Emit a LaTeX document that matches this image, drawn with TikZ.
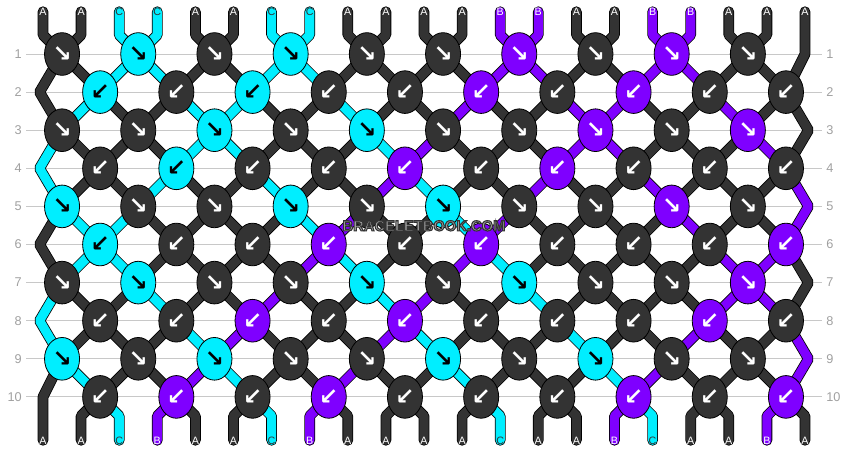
\documentclass[tikz,border=0pt]{standalone}
\usepackage{fontspec}
\setmainfont{Liberation Sans}
\newfontfamily\arrowfont{DejaVu Sans Bold}
\usetikzlibrary{shapes.geometric,backgrounds}

\definecolor{strA}{HTML}{333333}
\definecolor{strB}{HTML}{7F00FF}
\definecolor{strC}{HTML}{00EEFF}
\definecolor{rowgray}{HTML}{A0A0A0}
\definecolor{linegray}{HTML}{C8C8C8}
\definecolor{markgray}{HTML}{A8A8A8}

\begin{document}
\begin{tikzpicture}[
    knot/.style={
      ellipse,
      draw=black,
      line width=0.6pt,
      minimum width=0.92cm,
      minimum height=1.12cm,
      inner sep=0pt,
      font=\arrowfont\fontsize{17}{17}\selectfont
    },
    knotA/.style={knot, fill=strA, text=white},
    knotB/.style={knot, fill=strB, text=white},
    knotC/.style={knot, fill=strC, text=black},
    strand/.style={
      draw=black,
      line width=0.6pt,
      double distance=6.8pt,
      line cap=round,
      line join=bevel
    },
    strandA/.style={strand, double=strA},
    strandB/.style={strand, double=strB},
    strandC/.style={strand, double=strC},
    tag/.style={inner sep=0pt, text=white, font=\fontsize{8}{8}\selectfont},
    tagC/.style={tag, text=strA},
    rownumL/.style={anchor=east, inner sep=3pt, text=rowgray, font=\fontsize{9.5}{9.5}\selectfont},
    rownumR/.style={rownumL, anchor=west},
    rowline/.style={draw=linegray, line width=0.7pt}
  ]

    \useasboundingbox (-1.1286,0.4173) rectangle (21.1286,-11.4462);

    % Bends above the first row and below the last row
    \coordinate (upper) at (0,-0.5);
    \coordinate (lower) at (0,-10.5);

    % Edge turns
    \coordinate (er1) at (20,-1);
    \coordinate (el2) at (-0.09,-2);
    \coordinate (er3) at (20.09,-3);
    \coordinate (el4) at (-0.09,-4);
    \coordinate (er5) at (20.09,-5);
    \coordinate (el6) at (-0.09,-6);
    \coordinate (er7) at (20.09,-7);
    \coordinate (el8) at (-0.09,-8);
    \coordinate (er9) at (20.09,-9);
    \coordinate (el10) at (0,-10);

    % Row numbers
    \node[rownumL] (rl1) at (-0.446,-1) {1};
    \node[rownumL] (rl2) at (-0.446,-2) {2};
    \node[rownumL] (rl3) at (-0.446,-3) {3};
    \node[rownumL] (rl4) at (-0.446,-4) {4};
    \node[rownumL] (rl5) at (-0.446,-5) {5};
    \node[rownumL] (rl6) at (-0.446,-6) {6};
    \node[rownumL] (rl7) at (-0.446,-7) {7};
    \node[rownumL] (rl8) at (-0.446,-8) {8};
    \node[rownumL] (rl9) at (-0.446,-9) {9};
    \node[rownumL] (rl10) at (-0.446,-10) {10};
    \node[rownumR] (rr1) at (20.446,-1) {1};
    \node[rownumR] (rr2) at (20.446,-2) {2};
    \node[rownumR] (rr3) at (20.446,-3) {3};
    \node[rownumR] (rr4) at (20.446,-4) {4};
    \node[rownumR] (rr5) at (20.446,-5) {5};
    \node[rownumR] (rr6) at (20.446,-6) {6};
    \node[rownumR] (rr7) at (20.446,-7) {7};
    \node[rownumR] (rr8) at (20.446,-8) {8};
    \node[rownumR] (rr9) at (20.446,-9) {9};
    \node[rownumR] (rr10) at (20.446,-10) {10};

    % Row 1
    \node[knotA] (k1-1) at (0.5,-1) {↘};
    \node[knotC] (k1-2) at (2.5,-1) {↘};
    \node[knotA] (k1-3) at (4.5,-1) {↘};
    \node[knotC] (k1-4) at (6.5,-1) {↘};
    \node[knotA] (k1-5) at (8.5,-1) {↘};
    \node[knotA] (k1-6) at (10.5,-1) {↘};
    \node[knotB] (k1-7) at (12.5,-1) {↘};
    \node[knotA] (k1-8) at (14.5,-1) {↘};
    \node[knotB] (k1-9) at (16.5,-1) {↘};
    \node[knotA] (k1-10) at (18.5,-1) {↘};

    % Row 2
    \node[knotC] (k2-1) at (1.5,-2) {↙};
    \node[knotA] (k2-2) at (3.5,-2) {↙};
    \node[knotC] (k2-3) at (5.5,-2) {↙};
    \node[knotA] (k2-4) at (7.5,-2) {↙};
    \node[knotA] (k2-5) at (9.5,-2) {↙};
    \node[knotB] (k2-6) at (11.5,-2) {↙};
    \node[knotA] (k2-7) at (13.5,-2) {↙};
    \node[knotB] (k2-8) at (15.5,-2) {↙};
    \node[knotA] (k2-9) at (17.5,-2) {↙};
    \node[knotA] (k2-10) at (19.5,-2) {↙};

    % Row 3
    \node[knotA] (k3-1) at (0.5,-3) {↘};
    \node[knotA] (k3-2) at (2.5,-3) {↘};
    \node[knotC] (k3-3) at (4.5,-3) {↘};
    \node[knotA] (k3-4) at (6.5,-3) {↘};
    \node[knotC] (k3-5) at (8.5,-3) {↘};
    \node[knotA] (k3-6) at (10.5,-3) {↘};
    \node[knotA] (k3-7) at (12.5,-3) {↘};
    \node[knotB] (k3-8) at (14.5,-3) {↘};
    \node[knotA] (k3-9) at (16.5,-3) {↘};
    \node[knotB] (k3-10) at (18.5,-3) {↘};

    % Row 4
    \node[knotA] (k4-1) at (1.5,-4) {↙};
    \node[knotC] (k4-2) at (3.5,-4) {↙};
    \node[knotA] (k4-3) at (5.5,-4) {↙};
    \node[knotA] (k4-4) at (7.5,-4) {↙};
    \node[knotB] (k4-5) at (9.5,-4) {↙};
    \node[knotA] (k4-6) at (11.5,-4) {↙};
    \node[knotB] (k4-7) at (13.5,-4) {↙};
    \node[knotA] (k4-8) at (15.5,-4) {↙};
    \node[knotA] (k4-9) at (17.5,-4) {↙};
    \node[knotA] (k4-10) at (19.5,-4) {↙};

    % Row 5
    \node[knotC] (k5-1) at (0.5,-5) {↘};
    \node[knotA] (k5-2) at (2.5,-5) {↘};
    \node[knotA] (k5-3) at (4.5,-5) {↘};
    \node[knotC] (k5-4) at (6.5,-5) {↘};
    \node[knotA] (k5-5) at (8.5,-5) {↘};
    \node[knotC] (k5-6) at (10.5,-5) {↘};
    \node[knotA] (k5-7) at (12.5,-5) {↘};
    \node[knotA] (k5-8) at (14.5,-5) {↘};
    \node[knotB] (k5-9) at (16.5,-5) {↘};
    \node[knotA] (k5-10) at (18.5,-5) {↘};

    % Row 6
    \node[knotC] (k6-1) at (1.5,-6) {↙};
    \node[knotA] (k6-2) at (3.5,-6) {↙};
    \node[knotA] (k6-3) at (5.5,-6) {↙};
    \node[knotB] (k6-4) at (7.5,-6) {↙};
    \node[knotA] (k6-5) at (9.5,-6) {↙};
    \node[knotB] (k6-6) at (11.5,-6) {↙};
    \node[knotA] (k6-7) at (13.5,-6) {↙};
    \node[knotA] (k6-8) at (15.5,-6) {↙};
    \node[knotA] (k6-9) at (17.5,-6) {↙};
    \node[knotB] (k6-10) at (19.5,-6) {↙};

    % Row 7
    \node[knotA] (k7-1) at (0.5,-7) {↘};
    \node[knotC] (k7-2) at (2.5,-7) {↘};
    \node[knotA] (k7-3) at (4.5,-7) {↘};
    \node[knotA] (k7-4) at (6.5,-7) {↘};
    \node[knotC] (k7-5) at (8.5,-7) {↘};
    \node[knotA] (k7-6) at (10.5,-7) {↘};
    \node[knotC] (k7-7) at (12.5,-7) {↘};
    \node[knotA] (k7-8) at (14.5,-7) {↘};
    \node[knotA] (k7-9) at (16.5,-7) {↘};
    \node[knotB] (k7-10) at (18.5,-7) {↘};

    % Row 8
    \node[knotA] (k8-1) at (1.5,-8) {↙};
    \node[knotA] (k8-2) at (3.5,-8) {↙};
    \node[knotB] (k8-3) at (5.5,-8) {↙};
    \node[knotA] (k8-4) at (7.5,-8) {↙};
    \node[knotB] (k8-5) at (9.5,-8) {↙};
    \node[knotA] (k8-6) at (11.5,-8) {↙};
    \node[knotA] (k8-7) at (13.5,-8) {↙};
    \node[knotA] (k8-8) at (15.5,-8) {↙};
    \node[knotB] (k8-9) at (17.5,-8) {↙};
    \node[knotA] (k8-10) at (19.5,-8) {↙};

    % Row 9
    \node[knotC] (k9-1) at (0.5,-9) {↘};
    \node[knotA] (k9-2) at (2.5,-9) {↘};
    \node[knotC] (k9-3) at (4.5,-9) {↘};
    \node[knotA] (k9-4) at (6.5,-9) {↘};
    \node[knotA] (k9-5) at (8.5,-9) {↘};
    \node[knotC] (k9-6) at (10.5,-9) {↘};
    \node[knotA] (k9-7) at (12.5,-9) {↘};
    \node[knotC] (k9-8) at (14.5,-9) {↘};
    \node[knotA] (k9-9) at (16.5,-9) {↘};
    \node[knotA] (k9-10) at (18.5,-9) {↘};

    % Row 10
    \node[knotA] (k10-1) at (1.5,-10) {↙};
    \node[knotB] (k10-2) at (3.5,-10) {↙};
    \node[knotA] (k10-3) at (5.5,-10) {↙};
    \node[knotB] (k10-4) at (7.5,-10) {↙};
    \node[knotA] (k10-5) at (9.5,-10) {↙};
    \node[knotA] (k10-6) at (11.5,-10) {↙};
    \node[knotA] (k10-7) at (13.5,-10) {↙};
    \node[knotB] (k10-8) at (15.5,-10) {↙};
    \node[knotA] (k10-9) at (17.5,-10) {↙};
    \node[knotB] (k10-10) at (19.5,-10) {↙};

    % Strand ends, top
    \node[tag] (lt1) at (0,0.11) {A};
    \node[tag] (lt2) at (1,0.11) {A};
    \node[tagC] (lt3) at (2,0.11) {C};
    \node[tagC] (lt4) at (3,0.11) {C};
    \node[tag] (lt5) at (4,0.11) {A};
    \node[tag] (lt6) at (5,0.11) {A};
    \node[tagC] (lt7) at (6,0.11) {C};
    \node[tagC] (lt8) at (7,0.11) {C};
    \node[tag] (lt9) at (8,0.11) {A};
    \node[tag] (lt10) at (9,0.11) {A};
    \node[tag] (lt11) at (10,0.11) {A};
    \node[tag] (lt12) at (11,0.11) {A};
    \node[tag] (lt13) at (12,0.11) {B};
    \node[tag] (lt14) at (13,0.11) {B};
    \node[tag] (lt15) at (14,0.11) {A};
    \node[tag] (lt16) at (15,0.11) {A};
    \node[tag] (lt17) at (16,0.11) {B};
    \node[tag] (lt18) at (17,0.11) {B};
    \node[tag] (lt19) at (18,0.11) {A};
    \node[tag] (lt20) at (19,0.11) {A};
    \node[tag] (lt21) at (20,0.11) {A};

    % Strand ends, bottom
    \node[tag] (lb1) at (0,-11.14) {A};
    \node[tag] (lb2) at (1,-11.14) {A};
    \node[tagC] (lb3) at (2,-11.14) {C};
    \node[tag] (lb4) at (3,-11.14) {B};
    \node[tag] (lb5) at (4,-11.14) {A};
    \node[tag] (lb6) at (5,-11.14) {A};
    \node[tagC] (lb7) at (6,-11.14) {C};
    \node[tag] (lb8) at (7,-11.14) {B};
    \node[tag] (lb9) at (8,-11.14) {A};
    \node[tag] (lb10) at (9,-11.14) {A};
    \node[tag] (lb11) at (10,-11.14) {A};
    \node[tag] (lb12) at (11,-11.14) {A};
    \node[tagC] (lb13) at (12,-11.14) {C};
    \node[tag] (lb14) at (13,-11.14) {A};
    \node[tag] (lb15) at (14,-11.14) {A};
    \node[tag] (lb16) at (15,-11.14) {B};
    \node[tagC] (lb17) at (16,-11.14) {C};
    \node[tag] (lb18) at (17,-11.14) {A};
    \node[tag] (lb19) at (18,-11.14) {A};
    \node[tag] (lb20) at (19,-11.14) {B};
    \node[tag] (lb21) at (20,-11.14) {A};

    \begin{scope}[on background layer]
      % Row guide lines
      \draw[rowline] (rl1) -- (rr1);
      \draw[rowline] (rl2) -- (rr2);
      \draw[rowline] (rl3) -- (rr3);
      \draw[rowline] (rl4) -- (rr4);
      \draw[rowline] (rl5) -- (rr5);
      \draw[rowline] (rl6) -- (rr6);
      \draw[rowline] (rl7) -- (rr7);
      \draw[rowline] (rl8) -- (rr8);
      \draw[rowline] (rl9) -- (rr9);
      \draw[rowline] (rl10) -- (rr10);

      % Strands, one path per string
      \draw[strandA] (lt1.center) -- (lt1 |- upper) -- (k1-1.center) -- (k2-1.center) -- (k3-2.center) -- (k4-2.center) -- (k5-3.center) -- (k6-3.center) -- (k7-4.center) -- (k8-4.center) -- (k9-5.center) -- (k10-5.center) -- (lb11 |- lower) -- (lb11.center);
      \draw[strandA] (lt2.center) -- (lt2 |- upper) -- (k1-1.center) -- (el2) -- (k3-1.center) -- (k4-1.center) -- (k5-2.center) -- (k6-2.center) -- (k7-3.center) -- (k8-3.center) -- (k9-4.center) -- (k10-4.center) -- (lb9 |- lower) -- (lb9.center);
      \draw[strandC] (lt3.center) -- (lt3 |- upper) -- (k1-2.center) -- (k2-2.center) -- (k3-3.center) -- (k4-3.center) -- (k5-4.center) -- (k6-4.center) -- (k7-5.center) -- (k8-5.center) -- (k9-6.center) -- (k10-6.center) -- (lb13 |- lower) -- (lb13.center);
      \draw[strandC] (lt4.center) -- (lt4 |- upper) -- (k1-2.center) -- (k2-1.center) -- (k3-1.center) -- (el4) -- (k5-1.center) -- (k6-1.center) -- (k7-2.center) -- (k8-2.center) -- (k9-3.center) -- (k10-3.center) -- (lb7 |- lower) -- (lb7.center);
      \draw[strandA] (lt5.center) -- (lt5 |- upper) -- (k1-3.center) -- (k2-3.center) -- (k3-4.center) -- (k4-4.center) -- (k5-5.center) -- (k6-5.center) -- (k7-6.center) -- (k8-6.center) -- (k9-7.center) -- (k10-7.center) -- (lb15 |- lower) -- (lb15.center);
      \draw[strandA] (lt6.center) -- (lt6 |- upper) -- (k1-3.center) -- (k2-2.center) -- (k3-2.center) -- (k4-1.center) -- (k5-1.center) -- (el6) -- (k7-1.center) -- (k8-1.center) -- (k9-2.center) -- (k10-2.center) -- (lb5 |- lower) -- (lb5.center);
      \draw[strandC] (lt7.center) -- (lt7 |- upper) -- (k1-4.center) -- (k2-4.center) -- (k3-5.center) -- (k4-5.center) -- (k5-6.center) -- (k6-6.center) -- (k7-7.center) -- (k8-7.center) -- (k9-8.center) -- (k10-8.center) -- (lb17 |- lower) -- (lb17.center);
      \draw[strandC] (lt8.center) -- (lt8 |- upper) -- (k1-4.center) -- (k2-3.center) -- (k3-3.center) -- (k4-2.center) -- (k5-2.center) -- (k6-1.center) -- (k7-1.center) -- (el8) -- (k9-1.center) -- (k10-1.center) -- (lb3 |- lower) -- (lb3.center);
      \draw[strandA] (lt9.center) -- (lt9 |- upper) -- (k1-5.center) -- (k2-5.center) -- (k3-6.center) -- (k4-6.center) -- (k5-7.center) -- (k6-7.center) -- (k7-8.center) -- (k8-8.center) -- (k9-9.center) -- (k10-9.center) -- (lb19 |- lower) -- (lb19.center);
      \draw[strandA] (lt10.center) -- (lt10 |- upper) -- (k1-5.center) -- (k2-4.center) -- (k3-4.center) -- (k4-3.center) -- (k5-3.center) -- (k6-2.center) -- (k7-2.center) -- (k8-1.center) -- (k9-1.center) -- (el10) -- (lb1.center);
      \draw[strandA] (lt11.center) -- (lt11 |- upper) -- (k1-6.center) -- (k2-6.center) -- (k3-7.center) -- (k4-7.center) -- (k5-8.center) -- (k6-8.center) -- (k7-9.center) -- (k8-9.center) -- (k9-10.center) -- (k10-10.center) -- (lb21 |- lower) -- (lb21.center);
      \draw[strandA] (lt12.center) -- (lt12 |- upper) -- (k1-6.center) -- (k2-5.center) -- (k3-5.center) -- (k4-4.center) -- (k5-4.center) -- (k6-3.center) -- (k7-3.center) -- (k8-2.center) -- (k9-2.center) -- (k10-1.center) -- (lb2 |- lower) -- (lb2.center);
      \draw[strandB] (lt13.center) -- (lt13 |- upper) -- (k1-7.center) -- (k2-7.center) -- (k3-8.center) -- (k4-8.center) -- (k5-9.center) -- (k6-9.center) -- (k7-10.center) -- (k8-10.center) -- (er9) -- (k10-10.center) -- (lb20 |- lower) -- (lb20.center);
      \draw[strandB] (lt14.center) -- (lt14 |- upper) -- (k1-7.center) -- (k2-6.center) -- (k3-6.center) -- (k4-5.center) -- (k5-5.center) -- (k6-4.center) -- (k7-4.center) -- (k8-3.center) -- (k9-3.center) -- (k10-2.center) -- (lb4 |- lower) -- (lb4.center);
      \draw[strandA] (lt15.center) -- (lt15 |- upper) -- (k1-8.center) -- (k2-8.center) -- (k3-9.center) -- (k4-9.center) -- (k5-10.center) -- (k6-10.center) -- (er7) -- (k8-10.center) -- (k9-10.center) -- (k10-9.center) -- (lb18 |- lower) -- (lb18.center);
      \draw[strandA] (lt16.center) -- (lt16 |- upper) -- (k1-8.center) -- (k2-7.center) -- (k3-7.center) -- (k4-6.center) -- (k5-6.center) -- (k6-5.center) -- (k7-5.center) -- (k8-4.center) -- (k9-4.center) -- (k10-3.center) -- (lb6 |- lower) -- (lb6.center);
      \draw[strandB] (lt17.center) -- (lt17 |- upper) -- (k1-9.center) -- (k2-9.center) -- (k3-10.center) -- (k4-10.center) -- (er5) -- (k6-10.center) -- (k7-10.center) -- (k8-9.center) -- (k9-9.center) -- (k10-8.center) -- (lb16 |- lower) -- (lb16.center);
      \draw[strandB] (lt18.center) -- (lt18 |- upper) -- (k1-9.center) -- (k2-8.center) -- (k3-8.center) -- (k4-7.center) -- (k5-7.center) -- (k6-6.center) -- (k7-6.center) -- (k8-5.center) -- (k9-5.center) -- (k10-4.center) -- (lb8 |- lower) -- (lb8.center);
      \draw[strandA] (lt19.center) -- (lt19 |- upper) -- (k1-10.center) -- (k2-10.center) -- (er3) -- (k4-10.center) -- (k5-10.center) -- (k6-9.center) -- (k7-9.center) -- (k8-8.center) -- (k9-8.center) -- (k10-7.center) -- (lb14 |- lower) -- (lb14.center);
      \draw[strandA] (lt20.center) -- (lt20 |- upper) -- (k1-10.center) -- (k2-9.center) -- (k3-9.center) -- (k4-8.center) -- (k5-8.center) -- (k6-7.center) -- (k7-7.center) -- (k8-6.center) -- (k9-6.center) -- (k10-5.center) -- (lb10 |- lower) -- (lb10.center);
      \draw[strandA] (lt21.center) -- (er1) -- (k2-10.center) -- (k3-10.center) -- (k4-9.center) -- (k5-9.center) -- (k6-8.center) -- (k7-8.center) -- (k8-7.center) -- (k9-7.center) -- (k10-6.center) -- (lb12 |- lower) -- (lb12.center);
    \end{scope}

    % Watermark
    \node[text=markgray, font=\bfseries\fontsize{11}{11}\selectfont, inner sep=0pt] (mark) at (10,-5.51)
      {\special{pdf:literal direct 2 Tr 0.8 w 0.2 0.2 0.2 RG}BRACELETBOOK.COM\special{pdf:literal direct 0 Tr}};

  \end{tikzpicture}
\end{document}
